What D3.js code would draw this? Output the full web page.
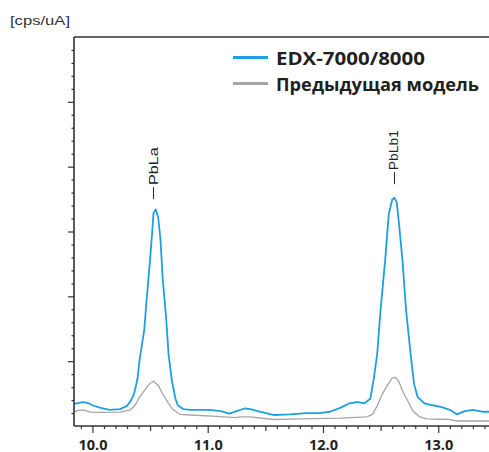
<!DOCTYPE html>
<html><head><meta charset="utf-8">
<script src="https://cdn.jsdelivr.net/npm/d3@7"></script>
<style>html,body{margin:0;padding:0;background:#fff;}svg{display:block;}</style>
</head><body>
<svg id="c" width="489" height="452"></svg>
<script>
// ---- data ----
const newEnergy = [9.84,9.875,9.92,9.96,10.0,10.07,10.15,10.24,10.30,10.33,10.36,10.39,10.41,10.45,10.47,10.50,10.52,10.53,10.55,10.57,10.59,10.61,10.64,10.66,10.69,10.72,10.74,10.79,10.85,10.93,11.02,11.11,11.19,11.25,11.32,11.37,11.45,11.57,11.71,11.86,11.97,12.06,12.15,12.23,12.30,12.36,12.41,12.44,12.47,12.50,12.54,12.57,12.60,12.62,12.64,12.66,12.69,12.72,12.76,12.79,12.82,12.88,12.95,13.03,13.10,13.16,13.23,13.30,13.38,13.44];
const newIntensity = [0.34,0.354,0.37,0.354,0.32,0.28,0.25,0.26,0.31,0.38,0.49,0.72,1.03,1.49,1.95,2.57,3.03,3.29,3.34,3.22,2.88,2.26,1.65,1.11,0.69,0.42,0.32,0.26,0.25,0.25,0.25,0.23,0.19,0.23,0.27,0.26,0.22,0.17,0.18,0.2,0.2,0.22,0.28,0.35,0.37,0.35,0.42,0.72,1.11,1.8,2.57,3.26,3.49,3.52,3.45,3.11,2.54,1.8,1.11,0.65,0.45,0.35,0.32,0.29,0.25,0.18,0.23,0.25,0.22,0.22];
const oldEnergy = [9.84,9.875,9.92,9.98,10.07,10.24,10.33,10.37,10.41,10.46,10.50,10.53,10.57,10.61,10.66,10.70,10.76,10.85,11.08,11.24,11.28,11.37,11.57,11.80,12.15,12.38,12.43,12.47,12.51,12.56,12.60,12.63,12.66,12.69,12.74,12.78,12.84,12.90,13.10,13.16,13.44];
const oldIntensity = [0.215,0.24,0.25,0.215,0.21,0.215,0.25,0.32,0.45,0.57,0.66,0.69,0.63,0.49,0.35,0.25,0.18,0.17,0.15,0.13,0.14,0.14,0.10,0.11,0.12,0.14,0.18,0.31,0.48,0.63,0.74,0.75,0.68,0.54,0.37,0.23,0.14,0.11,0.10,0.077,0.077];
const seriesNames = ["EDX-7000/8000", "Предыдущая модель"];
const xTickValues = [10, 11, 12, 13];
const xTickLabels = ["10.0", "11.0", "12.0", "13.0"];
const peakNames = ["PbLa", "PbLb1"];
const peakEnergy = [10.53, 12.62];
const peakLabelBase = [3.5, 3.73];
const yUnit = "[cps/uA]";

// ---- layout ----
const W = 489, H = 452;
const L = 74, R = 489, T = 37, B = 426;
const blue = "#1ea0e0", gray = "#a5a5a5", axisCol = "#333";
const svg = d3.select("#c");
const x = d3.scaleLinear().domain([9.84, 13.44]).range([L, R]);
const y = d3.scaleLinear().domain([0, 6]).range([B, T]);

svg.append("defs").append("clipPath").attr("id","clip")
  .append("rect").attr("x", L).attr("y", T).attr("width", R - L).attr("height", B - T);

// lines
const line = d3.line().x(d => x(d[0])).y(d => y(d[1]));
const oldData = oldEnergy.map((e,i) => [e, oldIntensity[i]]);
const newData = newEnergy.map((e,i) => [e, newIntensity[i]]);
const g = svg.append("g").attr("clip-path","url(#clip)");
g.append("path").datum(oldData).attr("d", line).attr("fill","none").attr("stroke",gray).attr("stroke-width",1.3).attr("stroke-linejoin","round");
g.append("path").datum(newData).attr("d", line).attr("fill","none").attr("stroke",blue).attr("stroke-width",1.8).attr("stroke-linejoin","round");

// axes
function styleAxis(sel){ sel.select(".domain").remove(); sel.selectAll(".tick line").attr("stroke",axisCol).attr("stroke-width",1.2); }
const xMinor = d3.range(9.9, 13.45, 0.1).map(v => +v.toFixed(1)).filter(v => Math.abs(v - Math.round(v*2)/2) > 1e-6);
const xHalf = [10.5, 11.5, 12.5];
svg.append("g").attr("transform",`translate(0,${B})`).call(d3.axisBottom(x).tickValues(xMinor).tickSize(3).tickFormat("")).call(styleAxis);
svg.append("g").attr("transform",`translate(0,${B})`).call(d3.axisBottom(x).tickValues(xHalf).tickSize(5).tickFormat("")).call(styleAxis);
const xa = svg.append("g").attr("transform",`translate(0,${B})`)
  .call(d3.axisBottom(x).tickValues(xTickValues).tickSize(7).tickPadding(5).tickFormat((d,i) => xTickLabels[i])).call(styleAxis);
xa.selectAll(".tick text").attr("font-family","'Open Sans', sans-serif").attr("font-weight","bold").attr("font-size","14.5px").attr("fill","#231f20").attr("dy","0.85em");

const yMinor = d3.range(0.2, 6, 0.2).map(v => +v.toFixed(1)).filter(v => Math.abs(v - Math.round(v)) > 1e-6);
svg.append("g").attr("transform",`translate(${L},0)`).call(d3.axisLeft(y).tickValues(yMinor).tickSize(2.5).tickFormat("")).call(styleAxis);
svg.append("g").attr("transform",`translate(${L},0)`).call(d3.axisLeft(y).tickValues([1,2,3,4,5]).tickSize(6).tickFormat("")).call(styleAxis);

// frame lines
svg.append("line").attr("x1",L).attr("x2",L).attr("y1",T).attr("y2",B).attr("stroke",axisCol).attr("stroke-width",1.6);
svg.append("line").attr("x1",L).attr("x2",R).attr("y1",T).attr("y2",T).attr("stroke",axisCol).attr("stroke-width",1.6);
svg.append("line").attr("x1",L).attr("x2",R).attr("y1",B).attr("y2",B).attr("stroke",axisCol).attr("stroke-width",1.6);

// y unit
svg.append("text").attr("x",10).attr("y",25).text(yUnit)
  .attr("font-family","'Liberation Sans', sans-serif").attr("font-size","13px").attr("fill","#333")
  .attr("textLength",60).attr("lengthAdjust","spacingAndGlyphs");

// peak labels
peakNames.forEach((n,i) => {
  const px = x(peakEnergy[i]), py = y(peakLabelBase[i]);
  svg.append("line").attr("x1",px).attr("x2",px).attr("y1",py).attr("y2",py-12).attr("stroke","#222").attr("stroke-width",1);
  svg.append("text").attr("transform",`translate(${px},${py-14}) rotate(-90)`)
    .attr("dominant-baseline","central").text(n)
    .attr("font-family","'Liberation Sans', sans-serif").attr("font-size","12px").attr("fill","#222")
    .attr("textLength", n.length === 4 ? 38 : 40).attr("lengthAdjust","spacingAndGlyphs");
});

// legend
const legendColors = [blue, gray];
const legendY = [57.5, 83.5];
const legendLens = [149, 203];
seriesNames.forEach((n,i) => {
  svg.append("line").attr("x1",233).attr("x2",268).attr("y1",legendY[i]).attr("y2",legendY[i]).attr("stroke",legendColors[i]).attr("stroke-width",3);
  svg.append("text").attr("x",276).attr("y",legendY[i]+7).text(n)
    .attr("font-family","'Open Sans', sans-serif").attr("font-weight","bold").attr("font-size","18.5px").attr("fill","#231f20")
    .attr("textLength",legendLens[i]).attr("lengthAdjust","spacingAndGlyphs");
});
</script>
</body></html>
